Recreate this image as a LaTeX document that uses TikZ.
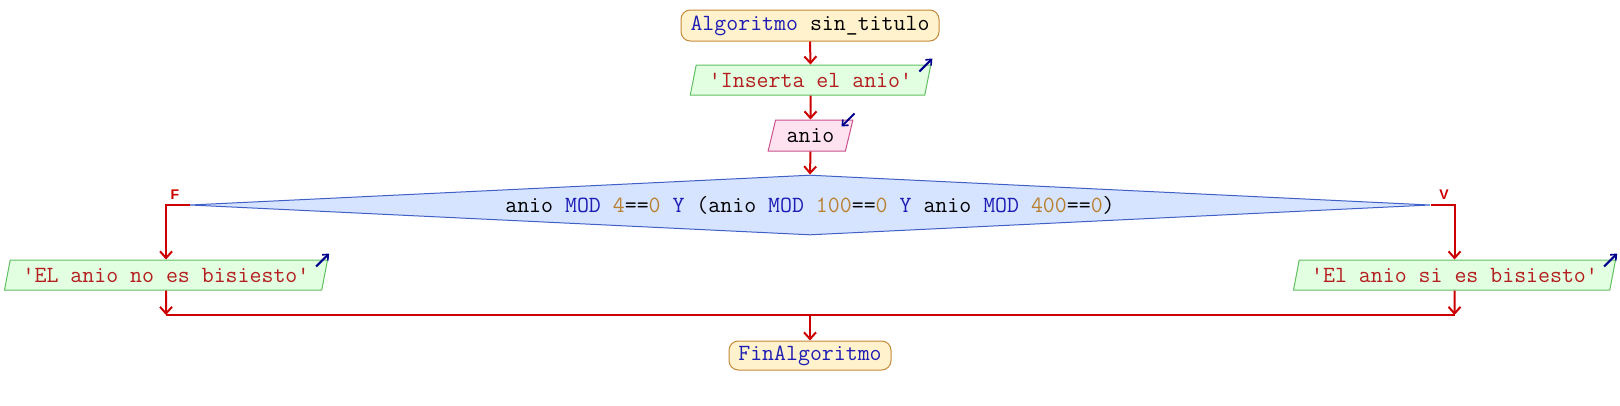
\documentclass[tikz,border=0pt]{standalone}
\usepackage{fontspec}
\newfontfamily\lblfont{Liberation Sans}
\usetikzlibrary{arrows.meta,shapes.geometric}
\definecolor{connred}{RGB}{204,0,0}
\definecolor{termfill}{RGB}{255,242,204}
\definecolor{termdraw}{RGB}{196,136,56}
\definecolor{iofill}{RGB}{226,255,226}
\definecolor{iodraw}{RGB}{96,192,96}
\definecolor{rdfill}{RGB}{255,226,240}
\definecolor{rddraw}{RGB}{200,80,140}
\definecolor{decfill}{RGB}{214,228,255}
\definecolor{decdraw}{RGB}{64,96,200}
\definecolor{kw}{RGB}{30,30,180}
\definecolor{num}{RGB}{184,128,48}
\definecolor{strc}{RGB}{180,30,30}
\definecolor{iconblue}{RGB}{0,0,140}
\begin{document}
\begin{tikzpicture}[x=0.75pt,y=-0.75pt,
  font=\ttfamily\fontsize{17.4}{20}\selectfont,
  flow/.style={draw=connred,line width=1.5pt,-{Straight Barb[length=5pt,width=9pt,line width=1.5pt]}},
  plain/.style={draw=connred,line width=1.5pt},
  term/.style={draw=termdraw,fill=termfill,rounded corners=7pt,line width=0.75pt,inner sep=0pt},
  para/.style={trapezium,trapezium left angle=70,trapezium right angle=110,trapezium stretches=true,inner sep=0pt,line width=0.75pt},
  outbox/.style={para,draw=iodraw,fill=iofill,text=strc},
  inbox/.style={para,draw=rddraw,fill=rdfill},
  decbox/.style={diamond,aspect=20.67,draw=decdraw,fill=decfill,inner sep=0pt,line width=0.75pt},
  lbl/.style={font=\lblfont\bfseries\fontsize{10.5}{12}\selectfont,text=connred,inner sep=0pt},
  iconarrow/.style={draw=iconblue,line width=1.5pt,-{Straight Barb[length=3.5pt,width=6pt,line width=1.2pt]}}
]
\useasboundingbox (0,0) rectangle (1620,405);

\node[term,minimum width=193.5pt,minimum height=23.25pt] (start) at (810,25.5) {\textcolor{kw}{Algoritmo} sin\_titulo};
\node[outbox,minimum width=180.75pt,minimum height=22.5pt] (in1) at (810.5,80) {'Inserta el anio'};
\node[inbox,minimum width=63.75pt,minimum height=23.25pt] (rd) at (810.5,135.5) {anio};
\node[decbox,minimum width=930pt,minimum height=45pt] (dec) at (810,205)
  {anio \textcolor{kw}{MOD} \textcolor{num}{4}==\textcolor{num}{0} \textcolor{kw}{Y} (anio \textcolor{kw}{MOD} \textcolor{num}{100}==\textcolor{num}{0} \textcolor{kw}{Y} anio \textcolor{kw}{MOD} \textcolor{num}{400}==\textcolor{num}{0})};
\node[outbox,minimum width=243pt,minimum height=22.5pt] (lout) at (166,275) {'EL anio no es bisiesto'};
\node[outbox,minimum width=242.25pt,minimum height=22.5pt] (rout) at (1454.5,275) {'El anio si es bisiesto'};
\node[term,minimum width=121.5pt,minimum height=21.75pt] (fin) at (810,355.5) {\textcolor{kw}{FinAlgoritmo}};

\node[lbl] (lf) at (175,195) {F};
\node[lbl] (lv) at (1444,195) {V};

\coordinate (mL) at (166,315);
\coordinate (mR) at (1454.5,315);
\coordinate (mC) at (810,315);

\draw[flow] (start.south) -- (in1.north);
\draw[flow] (in1.south) -- (rd.north);
\draw[flow] (rd.south) -- (dec.north);
\draw[flow] (dec.west) -| (lout.north);
\draw[flow] (dec.east) -| (rout.north);
\draw[flow] (lout.south) -- (mL);
\draw[flow] (rout.south) -- (mR);
\draw[plain] (mL) -- (mR);
\draw[flow] (mC) -- (fin.north);

\draw[iconarrow] ([shift={(-12,7)}]in1.top right corner) -- ([shift={(1,-6)}]in1.top right corner);
\draw[iconarrow] ([shift={(-12,7)}]lout.top right corner) -- ([shift={(1,-6)}]lout.top right corner);
\draw[iconarrow] ([shift={(-12,7)}]rout.top right corner) -- ([shift={(1,-6)}]rout.top right corner);
\draw[iconarrow] ([shift={(1,-6)}]rd.top right corner) -- ([shift={(-12,7)}]rd.top right corner);
\end{tikzpicture}
\end{document}
